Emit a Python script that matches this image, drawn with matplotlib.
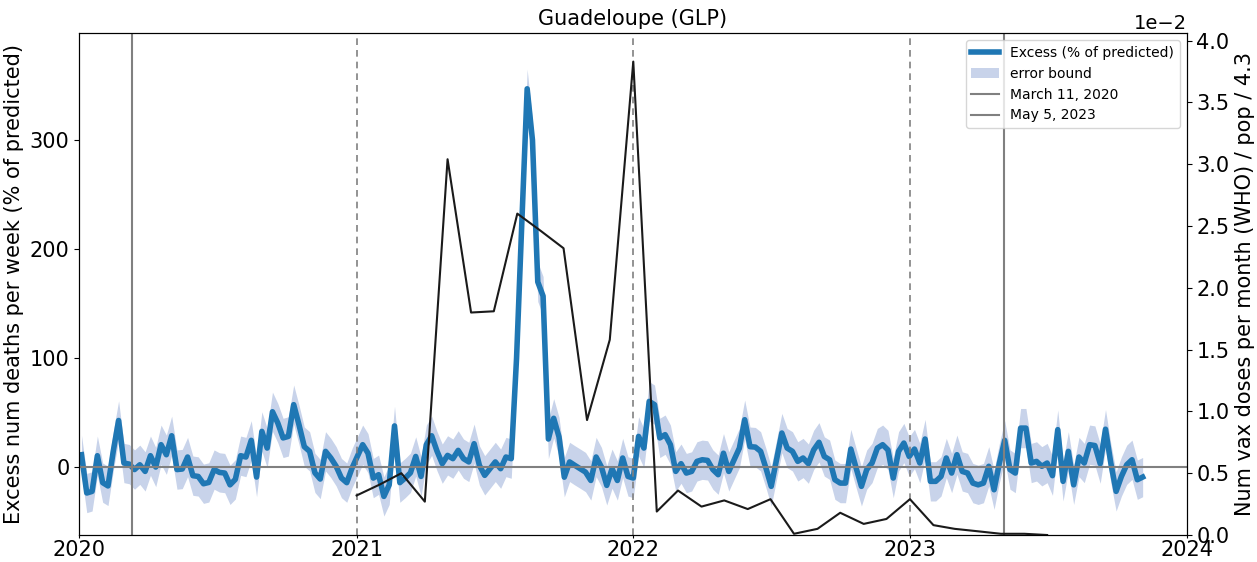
import pandas as pd
import matplotlib
matplotlib.use("Agg")
import matplotlib.pyplot as plt
import matplotlib.dates as mdates
from matplotlib.ticker import MultipleLocator

# weekly excess deaths, % of predicted
excess = [
    11.6, -23.5, -22, 10.7, -14, -17, 15, 43, 4, 3, -2, 2.4, -3.7, 10.7, 0.3, 20.8, 11.6, 29,
    -2, -1.5, 9.5, -7.6, -8.3, -15, -13.8, -2, -4.6, -5.2, -16, -11, 10.7, 9.5, 24.8, -8.9, 33,
    17.7, 51, 40.7, 27, 28.4, 57.5, 39, 19, 14.7, -5, -10.7, 14.7, 8.6, 1, -9.8, -14, -0.6,
    10, 20.8, 13, -9.8, -6.7, -26.6, -16, 38, -14, -9.8, -5, 10, -8.3, 20.8, 29, 15,
    3.4, 11, 8, 15.6, 8, 5, 21.7, 1.8, -7.3, -1.2, 5, -1.2, 9.5, 8, 100, 225, 347, 300, 170,
    157, 26, 45, 28, -9, 5, 1.8, -1.2, -4.3, -12, 9.5, 0.3, -16.5, -1.2, -12,
    8.6, -8.3, -9.8, 28.4, 17.7, 60.5, 57.5, 27, 30, 20.8, -3.7, 3.4, -5.2, -3.7, 5.5, 7, 6.4,
    -2, -6.7, 13, -3.7, 7, 17.7, 43.7, 19, 18.6, 14.7, -0.6, -17.4, 7, 31.5, 17.7, 14.7, 5.5,
    8.6, 3.4, 16, 23, 10, 7, -11.3, -14.4, -14.4, 16.8, -0.6, -17.4, -2, 4, 17.7, 20.8, 16,
    -9.8, 14.7, 22.3, 10, 16.8, 4, 26, -12.8, -12.8, -8.3, 8.6, -5.2, 11.6, -3.7, -5.2, -14.4,
    -16, -14.4, 1, -20.5, 4, 24.8, -2, -5.2, 36, 36, 4, 5.5, 1, 4, -7.6, 34.6, -12.8, 14.7,
    -16, 9.5, 4, 20.8, 20, 3.4, 35, 4, -22, -8.3, 2.4, 7, -11.3, -8.9,
]
weeks = pd.date_range("2020-01-04", periods=len(excess), freq="7D")
errHalfWidth = 18

# monthly vaccine doses / pop / 4.3
vaxMonths = pd.date_range("2021-01-01", "2023-07-01", freq="MS")
vaxDoses = [
    0.0032, 0.0041, 0.0050, 0.0027, 0.0304, 0.0180, 0.0181, 0.0260, 0.0246, 0.0232, 0.0093, 0.0158,
    0.0383, 0.0019, 0.0036, 0.0023, 0.0028, 0.0021, 0.0029, 0.0001, 0.0005, 0.0018, 0.0009, 0.0013,
    0.0029, 0.0008, 0.0005, 0.0003, 0.0001, 0.0001, 0.0000,
]

yearLines = ["2021-01-01", "2022-01-01", "2023-01-01"]
pandemicStart = "2020-03-11"
pandemicEnd = "2023-05-05"

lower = [v - errHalfWidth for v in excess]
upper = [v + errHalfWidth for v in excess]

fig, ax = plt.subplots(figsize=(12.57, 5.62), dpi=100)
fig.subplots_adjust(left=0.063, right=0.944, bottom=0.048, top=0.941)

ax.fill_between(weeks, lower, upper, color="#c8d3ea", linewidth=0, label="error bound")
ax.plot(weeks, excess, color="#1f77b4", linewidth=4, label="Excess (% of predicted)")
ax.axhline(0, color="gray", linewidth=1.5)
ax.axvline(pd.Timestamp(pandemicStart), color="gray", linewidth=1.5, label="March 11, 2020")
ax.axvline(pd.Timestamp(pandemicEnd), color="gray", linewidth=1.5, label="May 5, 2023")
for d in yearLines:
    ax.axvline(pd.Timestamp(d), color="gray", linewidth=1.2, linestyle=(0, (4, 3)))

ax.set_xlim(pd.Timestamp("2020-01-01"), pd.Timestamp("2024-01-01"))
ax.set_ylim(-62, 398)
ax.xaxis.set_major_locator(mdates.YearLocator())
ax.xaxis.set_major_formatter(mdates.DateFormatter("%Y"))
ax.tick_params(labelsize=15)
ax.tick_params(axis="x", length=2.5, pad=1)
ax.set_ylabel("Excess num deaths per week (% of predicted)", fontsize=15)
ax.set_title("Guadeloupe (GLP)", fontsize=15)

handles, labels = ax.get_legend_handles_labels()
order = [1, 0, 2, 3]
ax.legend([handles[i] for i in order], [labels[i] for i in order],
          loc="upper right", fontsize=10)

ax2 = ax.twinx()
ax2.plot(vaxMonths, vaxDoses, color="#1a1a1a", linewidth=1.5)
ax2.set_ylim(0, 0.0406)
ax2.yaxis.set_major_locator(MultipleLocator(0.005))
ax2.ticklabel_format(axis="y", style="sci", scilimits=(0, 0))
ax2.yaxis.get_offset_text().set_fontsize(14)
ax2.tick_params(labelsize=15)
ax2.set_ylabel("Num vax doses per month (WHO) / pop / 4.3", fontsize=15)

fig.savefig("out.png", dpi=100)
